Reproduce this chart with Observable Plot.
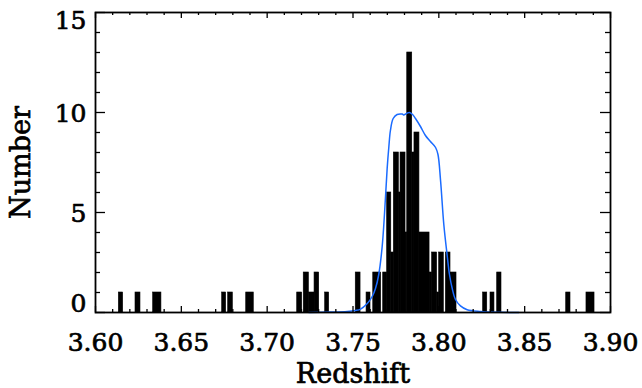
<!DOCTYPE html>
<html>
<head>
<meta charset="utf-8">
<script src="https://cdn.jsdelivr.net/npm/d3@7"></script>
<script src="https://cdn.jsdelivr.net/npm/@observablehq/plot@0.6"></script>
<style>
  html, body { margin: 0; padding: 0; background: #fff; }
  #chart { width: 642px; height: 388px; }
</style>
</head>
<body>
<div id="chart"></div>
<script>
// Histogram segments (redshift bin edges and counts)
const binLo = [3.6136, 3.6233, 3.6336, 3.6738, 3.6773, 3.6878, 3.7175, 3.7213, 3.7243, 3.7276,
               3.7338, 3.7516, 3.7579, 3.7618, 3.7676, 3.7699, 3.7723, 3.7738, 3.7767, 3.7777,
               3.7806, 3.7816, 3.7845, 3.7858, 3.7887, 3.7946, 3.7961, 3.7990, 3.8002, 3.8041,
               3.8068, 3.8258, 3.8301, 3.8340, 3.8742, 3.8860];
const binHi = [3.6161, 3.6262, 3.6384, 3.6761, 3.6800, 3.6922, 3.7204, 3.7243, 3.7276, 3.7303,
               3.7361, 3.7544, 3.7602, 3.7664, 3.7699, 3.7723, 3.7738, 3.7767, 3.7777, 3.7806,
               3.7816, 3.7845, 3.7858, 3.7887, 3.7946, 3.7961, 3.7990, 3.8002, 3.8029, 3.8068,
               3.8103, 3.8282, 3.8324, 3.8365, 3.8767, 3.8907];
const counts = [1, 1, 1, 1, 1, 1, 1, 2, 1, 2,
                1, 2, 1, 2, 2, 6, 3, 8, 6, 8,
                4, 13, 8, 9, 4, 2, 3, 1, 3, 3,
                2, 1, 1, 2, 1, 1];

// Smooth (blue) curve
const curveZ = [3.7243, 3.7369, 3.7466, 3.7515, 3.7544, 3.7583, 3.7612, 3.7631, 3.7650, 3.7670,
                3.7684, 3.7699, 3.7709, 3.7718, 3.7734, 3.7757, 3.7787, 3.7797, 3.7816, 3.7829,
                3.7847, 3.7864, 3.7893, 3.7922, 3.7951, 3.7981, 3.7995, 3.8010, 3.8029, 3.8048,
                3.8062, 3.8078, 3.8097, 3.8126, 3.8165, 3.8243, 3.8359, 3.8466];
const curveN = [0, 0.02, 0.05, 0.1, 0.17, 0.45, 0.8, 1.2, 1.9, 3.3,
                5.0, 7.2, 8.3, 9.1, 9.7, 9.9, 9.92, 9.88, 9.97, 10.0,
                9.9, 9.7, 9.3, 8.85, 8.55, 8.25, 7.9, 6.6, 4.4, 2.9,
                1.9, 1.2, 0.65, 0.33, 0.14, 0.05, 0.01, 0];

// Tick values and labels
const xMajor = [3.60, 3.65, 3.70, 3.75, 3.80, 3.85, 3.90];
const xMinor = [3.61, 3.62, 3.63, 3.64, 3.66, 3.67, 3.68, 3.69, 3.71, 3.72, 3.73, 3.74,
                3.76, 3.77, 3.78, 3.79, 3.81, 3.82, 3.83, 3.84, 3.86, 3.87, 3.88, 3.89];
const yMajor = [0, 5, 10, 15];
const yMinor = [1, 2, 3, 4, 6, 7, 8, 9, 11, 12, 13, 14];
const xTitle = "Redshift";
const yTitle = "Number";

const W = 642, H = 388;
const mL = 95, mR = 32, mT = 12, mB = 76;
const pw = W - mL - mR, ph = H - mT - mB;
const font = "DejaVu Serif";
const fs = 25;
const txt = {fill: "#000", stroke: "#000", strokeWidth: 0.7};

const bars = counts.map((c, i) => ({lo: binLo[i], hi: binHi[i], n: c}));
const curve = curveZ.map((z, i) => ({z, n: curveN[i]}));

const chart = Plot.plot({
  width: W, height: H,
  marginLeft: mL, marginRight: mR, marginTop: mT, marginBottom: mB,
  style: {fontFamily: font, background: "#fff", overflow: "visible"},
  x: {domain: [3.60, 3.90], axis: null},
  y: {domain: [0, 15], axis: null},
  marks: [
    Plot.rect(bars, {x1: "lo", x2: "hi", y1: () => 0, y2: "n", fill: "#000", stroke: "#000", strokeWidth: 0.6}),
    Plot.line(curve, {x: "z", y: "n", curve: "catmull-rom", stroke: "#1a6bff", strokeWidth: 1.5}),
    // ticks pointing inward on all four sides
    Plot.ruleX(xMinor, {insetTop: ph - 3, stroke: "#000", strokeWidth: 1.3}),
    Plot.ruleX(xMajor, {insetTop: ph - 6, stroke: "#000", strokeWidth: 1.3}),
    Plot.ruleX(xMinor, {insetBottom: ph - 3, stroke: "#000", strokeWidth: 1.3}),
    Plot.ruleX(xMajor, {insetBottom: ph - 6, stroke: "#000", strokeWidth: 1.3}),
    Plot.ruleY(yMinor, {insetRight: pw - 5, stroke: "#000", strokeWidth: 1.3}),
    Plot.ruleY(yMajor, {insetRight: pw - 10, stroke: "#000", strokeWidth: 1.3}),
    Plot.ruleY(yMinor, {insetLeft: pw - 5, stroke: "#000", strokeWidth: 1.3}),
    Plot.ruleY(yMajor, {insetLeft: pw - 10, stroke: "#000", strokeWidth: 1.3}),
    Plot.frame({stroke: "#000", strokeWidth: 1.8}),
    // x tick labels
    Plot.text(xMajor, {x: d => d, frameAnchor: "bottom", dy: 30, text: d => d3.format(".2f")(d),
      fontSize: fs, ...txt, textAnchor: "middle", lineAnchor: "middle"}),
    // y tick labels (IDL style: top label pushed down, bottom label pushed up)
    Plot.text(yMajor.filter(d => d > 0 && d < 15), {y: d => d, frameAnchor: "left", dx: -9, dy: 1,
      text: d => String(d), fontSize: fs, ...txt, textAnchor: "end", lineAnchor: "middle"}),
    Plot.text(yMajor.filter(d => d === 15), {y: d => d, frameAnchor: "left", dx: -9, dy: 8.3,
      text: d => String(d), fontSize: fs, ...txt, textAnchor: "end", lineAnchor: "middle"}),
    Plot.text(yMajor.filter(d => d === 0), {y: d => d, frameAnchor: "left", dx: -9, dy: -8.4,
      text: d => String(d), fontSize: fs, ...txt, textAnchor: "end", lineAnchor: "middle"}),
    // axis titles
    Plot.text([xTitle], {frameAnchor: "bottom", dy: 62, text: d => d, fontSize: 27, ...txt,
      textAnchor: "middle", lineAnchor: "middle"}),
    Plot.text([yTitle], {frameAnchor: "left", dx: -74, text: d => d, fontSize: 27, ...txt,
      rotate: -90, textAnchor: "middle", lineAnchor: "middle"})
  ]
});
document.getElementById("chart").appendChild(chart);
</script>
</body>
</html>
